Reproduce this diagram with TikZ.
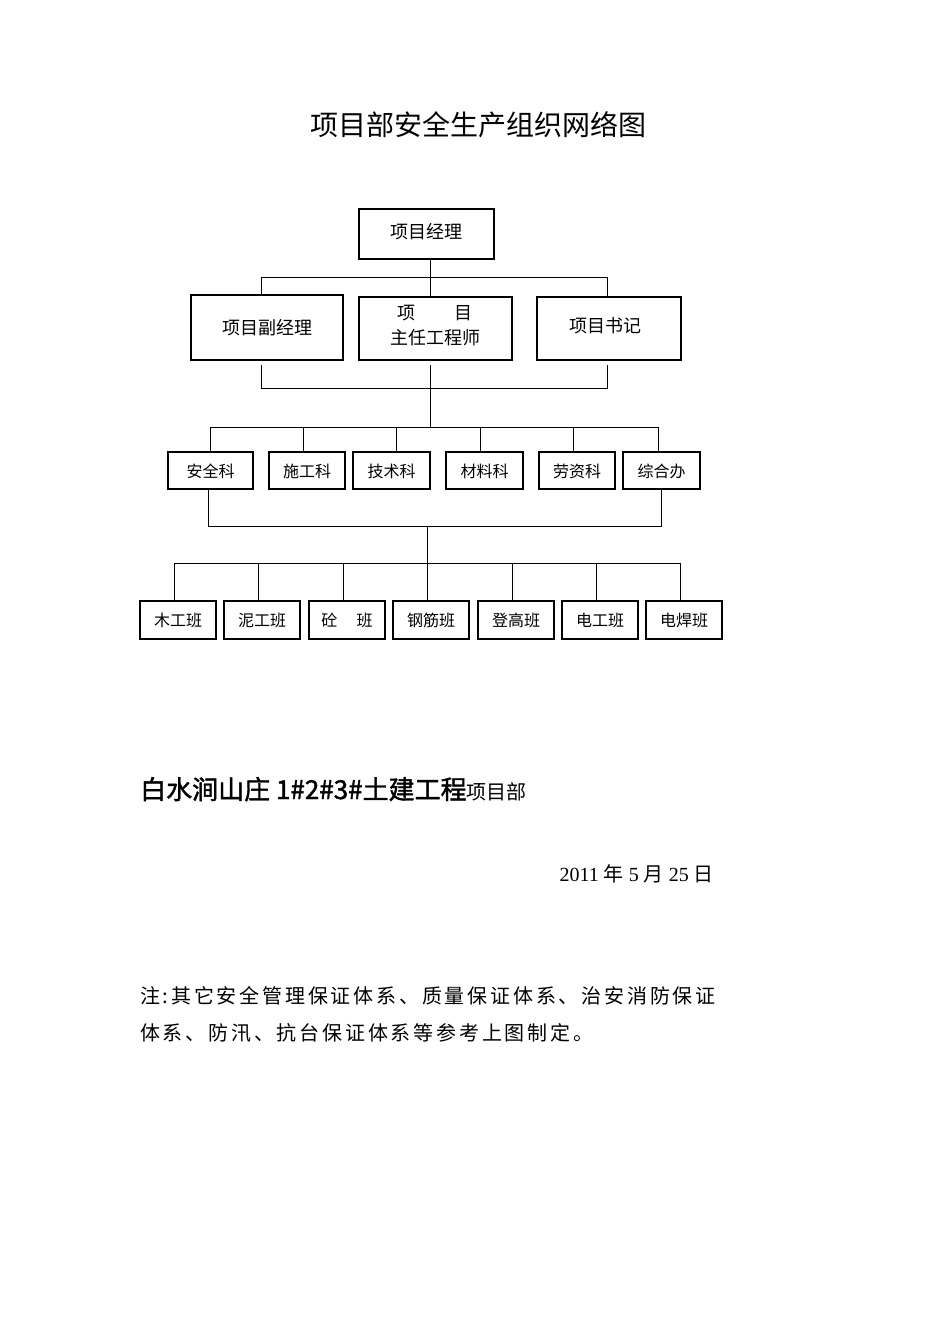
\documentclass[tikz,border=0pt]{standalone}
\usepackage{fontspec}
\setmainfont{Liberation Serif}
\newfontfamily\cjk{Noto Sans CJK SC}
\newfontfamily\cjkb{Noto Sans CJK SC}[FakeBold=1.5]
\begin{document}
\begin{tikzpicture}[x=1pt,y=-1pt,
  bx/.style={draw,line width=1.2pt,inner sep=0pt},
  ln/.style={line width=1pt},
  t/.style={font=\cjk\fontsize{18}{25}\selectfont}]
\useasboundingbox (0,0) rectangle (950,1344);
\node[font=\cjk\fontsize{28}{32}\selectfont] (title) at (478,125) {项目部安全生产组织网络图};
% top
\draw[bx] (359,209) rectangle (494,259);
\node[t] (pm) at (426,232) {项目经理};
\draw[bx] (191,295) rectangle (343,360);
\node[t] (d1) at (267,328) {项目副经理};
\draw[bx] (359,297) rectangle (512,360);
\node[t,align=center] (d2) at (435,326) {项\hspace{2.2em}目\\主任工程师};
\draw[bx] (537,297) rectangle (681,360);
\node[t] (d3) at (605,326) {项目书记};
\draw[ln] (430,259) -- (430,297);
\draw[ln] (261,295) -- (261,277) -- (607,277) -- (607,297);
\draw[ln] (261,365) -- (261,388) -- (607,388) -- (607,365);
\draw[ln] (430,365) -- (430,427);
\draw[ln] (210,452) -- (210,427) -- (658,427) -- (658,452);
% row3
\foreach \a/\b/\c/\s in {168/253/210/安全科,269/345/303/施工科,353/430/396/技术科,446/523/480/材料科,539/615/573/劳资科,623/700/658/综合办}{
  \draw[bx] (\a,452) rectangle (\b,489);
  \node[font=\cjk\fontsize{16}{20}\selectfont] at ({(\a+\b)/2},471) {\s};
  \draw[ln] (\c,427) -- (\c,452);
}
\draw[ln] (208,489) -- (208,526) -- (661,526) -- (661,489);
\draw[ln] (427,526) -- (427,601);
\draw[ln] (174,601) -- (174,563) -- (680,563) -- (680,601);
% row4
\foreach \a/\b/\c/\s in {140/216/174/木工班,224/300/258/泥工班,309/385/343/砼\hspace{1.2em}班,393/469/427/钢筋班,478/554/512/登高班,562/638/596/电工班,646/722/680/电焊班}{
  \draw[bx] (\a,601) rectangle (\b,639);
  \node[font=\cjk\fontsize{16}{20}\selectfont] at ({(\a+\b)/2},620) {\s};
  \draw[ln] (\c,563) -- (\c,601);
}
\node[anchor=base west,inner sep=0pt] (co) at (140,799) {\cjkb\fontsize{26}{30}\selectfont 白水涧山庄 1\#2\#3\#土建工程\fontsize{20}{24}\selectfont\cjk 项目部};
\node[anchor=base east,inner sep=0pt] (date) at (714,881) {\fontsize{20}{24}\selectfont 2011 {\cjk 年} 5 {\cjk 月} 25 {\cjk 日}};
\node[anchor=base west,inner sep=0pt] (n1) at (140,1003) {\cjk\fontsize{20}{24}\selectfont\addfontfeatures{LetterSpace=14} 注:其它安全管理保证体系、质量保证体系、治安消防保证};
\node[anchor=base west,inner sep=0pt] (n2) at (140,1040) {\cjk\fontsize{20}{24}\selectfont\addfontfeatures{LetterSpace=14} 体系、防汛、抗台保证体系等参考上图制定。};
\end{tikzpicture}
\end{document}
